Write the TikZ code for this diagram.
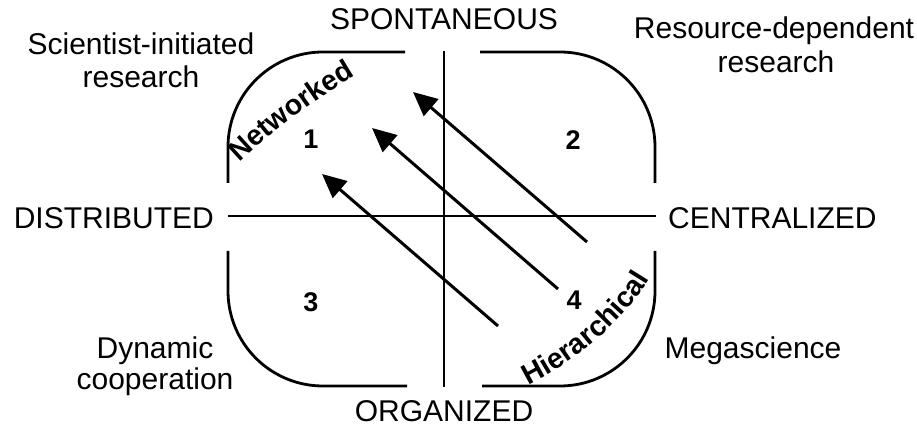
\documentclass[tikz,border=0pt]{standalone}
\usepackage{fontspec}
\setmainfont{Liberation Sans}
\usetikzlibrary{arrows.meta,decorations.text}
\begin{document}
\begin{tikzpicture}[x=1pt,y=1pt,
  axis/.style={line width=2.8pt},
  edge/.style={line width=2.8pt},
  arr/.style={line width=3pt,-{Triangle[length=24pt,width=22pt]}},
  lbl/.style={font=\fontsize{30}{34}\selectfont,inner sep=0pt,align=center},
  num/.style={font=\fontsize{27}{30}\selectfont\bfseries,inner sep=0pt}]
\useasboundingbox (0,0) rectangle (917,428);
% axes
\coordinate (vt) at (444,377); \coordinate (vb) at (444,41);
\coordinate (hl) at (228,212); \coordinate (hr) at (656,212);
\draw[axis] (vt) -- (vb);
\draw[axis] (hl) -- (hr);
% rounded corners
\draw[edge] (228,245) -- (228,281) arc[start angle=180,end angle=90,radius=95] -- (405,376);
\draw[edge] (480,376) -- (560,376) arc[start angle=90,end angle=0,radius=95] -- (655,245);
\draw[edge] (228,177) -- (228,137) arc[start angle=180,end angle=270,radius=95] -- (407,42);
\draw[edge] (482,42) -- (560,42) arc[start angle=-90,end angle=0,radius=95] -- (655,177);
% arrows
\coordinate (ta) at (587,186); \coordinate (ha) at (413,336);
\coordinate (tb) at (558,139); \coordinate (hb) at (372,300);
\coordinate (tc) at (498,102); \coordinate (hc) at (322,254);
\draw[arr] (ta) -- (ha);
\draw[arr] (tb) -- (hb);
\draw[arr] (tc) -- (hc);
% axis labels
\node[lbl,anchor=base] (sp) at (444,398) {SPONTANEOUS};
\node[lbl,anchor=base] (org) at (444,7) {ORGANIZED};
\node[lbl,anchor=base east] (dist) at (214,199) {DISTRIBUTED};
\node[lbl,anchor=base west] (cent) at (668,199) {CENTRALIZED};
% corner labels
\node[lbl,anchor=base] (sci1) at (141,373) {Scientist-initiated};
\node[lbl,anchor=base] (sci2) at (141,340) {research};
\node[lbl,anchor=base] (res1) at (774,389) {Resource-dependent};
\node[lbl,anchor=base] (res2) at (776,355) {research};
\node[lbl,anchor=base] (dyn1) at (155,70) {Dynamic};
\node[lbl,anchor=base] (dyn2) at (155,38) {cooperation};
\node[lbl,anchor=base] (mega) at (753,70) {Megascience};
% quadrant numbers
\node[num] (n1) at (311,289) {1};
\node[num] (n2) at (573,288) {2};
\node[num] (n3) at (311,126) {3};
\node[num] (n4) at (574,128) {4};
% curved labels
\path[decorate,decoration={text along path,text align=center,
  text={|\fontsize{28.5}{31}\selectfont\bfseries|Networked}}]
  (234,260) .. controls (266,292) and (322,334) .. (362,356);
\path[decorate,decoration={text along path,text align=center,
  text={|\fontsize{28.5}{31}\selectfont\bfseries|Hierarchical}}]
  (518,38) .. controls (570,61) and (629,108) .. (655,160);
\end{tikzpicture}
\end{document}
